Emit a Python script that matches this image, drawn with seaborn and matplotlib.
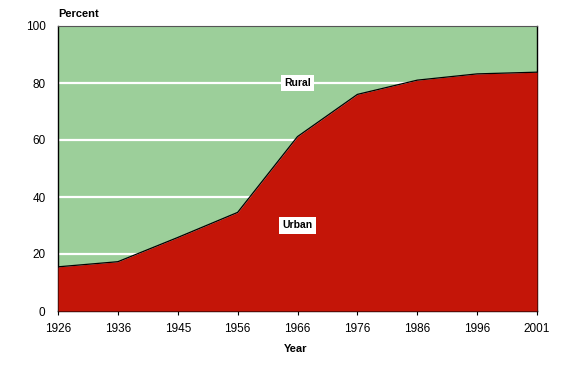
import numpy as np
import pandas as pd
import matplotlib
matplotlib.use('Agg')
import matplotlib.pyplot as plt
import seaborn as sns

years = ['1926', '1936', '1945', '1956', '1966', '1976', '1986', '1996', '2001']
urban = [15.5, 17.3, 25.8, 34.6, 61.2, 76.0, 81.0, 83.2, 83.8]
rural = [100 - u for u in urban]

sns.set_style('white', {'xtick.bottom': True, 'text.color': 'black',
                        'xtick.color': 'black', 'ytick.color': 'black'})
plt.rcParams['font.family'] = ['Liberation Sans', 'DejaVu Sans']

df = pd.DataFrame({'pos': np.arange(len(years)), 'Urban': urban, 'Rural': rural})
df['total'] = df.Urban + df.Rural

fig = plt.figure(figsize=(5.79, 3.75), dpi=100)
ax = fig.add_axes([58/579, 64/375, (537-58)/579, (311-26)/375])

green = '#9ccf9a'
red = '#c41508'

# rural sits on top of urban, gridlines only show through the green
ax.fill_between(df.pos, df.Urban, df.total, color=green, lw=0, zorder=1)
for g in [20, 40, 60, 80]:
    ax.axhline(g, color='white', lw=1.6, zorder=2)
ax.fill_between(df.pos, 0, df.Urban, color=red, lw=0, zorder=3)
sns.lineplot(data=df, x='pos', y='Urban', color='black', lw=0.9, ax=ax, zorder=4)

ax.set_xlim(0, len(years) - 1)
ax.set_ylim(0, 100)
ax.set_xticks(df.pos)
ax.set_xticklabels(years)
ax.set_yticks([0, 20, 40, 60, 80, 100])
ax.tick_params(axis='x', labelsize=8.5, length=3, width=0.8, direction='out',
               color='black', labelcolor='black', pad=6, bottom=True)
ax.tick_params(axis='y', labelsize=8.5, length=0, pad=9, labelcolor='black')
ax.set_xlabel('')
ax.set_ylabel('')

for side in ['left', 'bottom', 'right']:
    ax.spines[side].set_color('black')
    ax.spines[side].set_linewidth(1.0)
ax.spines['top'].set_color('#555555')
ax.spines['top'].set_linewidth(0.8)

ax.text(4, 80, 'Rural', ha='center', va='center', fontsize=7.5, fontweight='bold',
        color='black', zorder=5, bbox=dict(facecolor='white', edgecolor='none', pad=2.5))
ax.text(4, 30, 'Urban', ha='center', va='center', fontsize=7.5, fontweight='bold',
        color='black', zorder=5, bbox=dict(facecolor='white', edgecolor='none', pad=2.5))

fig.text(58/579, 1 - 14/375, 'Percent', ha='left', va='center', fontsize=8,
         fontweight='bold', color='black')
fig.text(296/579, 1 - 349/375, 'Year', ha='center', va='center', fontsize=8,
         fontweight='bold', color='black')

fig.savefig('out.png', dpi=100)
